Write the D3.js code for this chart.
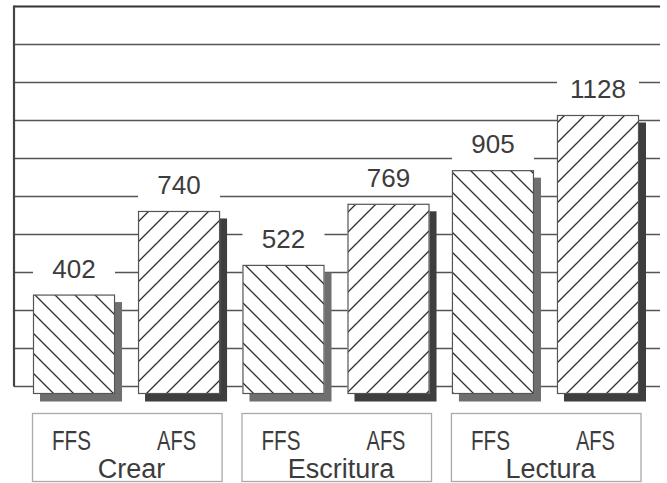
<!DOCTYPE html>
<html>
<head>
<meta charset="utf-8">
<script src="https://cdn.jsdelivr.net/npm/d3@7"></script>
<style>
  html, body { margin: 0; padding: 0; background: #fff; }
  svg { display: block; }
  text { font-family: "Liberation Sans", Arial, sans-serif; fill: #3c3c3c; }
</style>
</head>
<body>
<svg id="chart" width="667" height="483"></svg>
<script>
// ---- data ----
const categories = ["Crear", "Escritura", "Lectura"];
const seriesNames = ["FFS", "AFS"];
const ffsValues = [402, 522, 905];
const afsValues = [740, 769, 1128];
const gridSteps = [0, 1, 2, 3, 4, 5, 6, 7, 8, 9, 10];

const rows = [];
categories.forEach((c, i) => {
  rows.push({ cat: c, ser: "FFS", value: ffsValues[i] });
  rows.push({ cat: c, ser: "AFS", value: afsValues[i] });
});

const svg = d3.select("#chart");

// ---- scales ----
const x0 = d3.scaleBand().domain(categories).range([33, 639]).paddingInner(0.107).paddingOuter(0);
const x1 = d3.scaleBand().domain(seriesNames).range([0, x0.bandwidth()]).paddingInner(0.219).paddingOuter(0);
const y = d3.scaleLinear().domain([0, 1128]).range([394, 115]);
const gridY = d3.scaleLinear().domain([0, 10]).range([386.5, 6.5]);

// ---- patterns ----
const defs = svg.append("defs");
const pB = defs.append("pattern").attr("id", "hatchFFS").attr("patternUnits", "userSpaceOnUse")
  .attr("width", 20).attr("height", 20);
pB.append("path").attr("d", "M-5,-5 L25,25 M-5,15 L5,25 M15,-5 L25,5")
  .attr("stroke", "#2e2e2e").attr("stroke-width", 1.3);
const pA = defs.append("pattern").attr("id", "hatchAFS").attr("patternUnits", "userSpaceOnUse")
  .attr("width", 20).attr("height", 20);
pA.append("path").attr("d", "M-5,25 L25,-5 M-5,5 L5,-5 M15,25 L25,15")
  .attr("stroke", "#2e2e2e").attr("stroke-width", 1.3);

// ---- grid ----
svg.append("g").selectAll("line").data(gridSteps).join("line")
  .attr("x1", 14).attr("x2", 660)
  .attr("y1", d => gridY(d)).attr("y2", d => gridY(d))
  .attr("stroke", d => d === 10 ? "#333" : "#555")
  .attr("stroke-width", d => d === 10 ? 2.2 : 1.3);

svg.append("line").attr("x1", 14).attr("x2", 14)
  .attr("y1", gridY(10) - 1).attr("y2", gridY(0))
  .attr("stroke", "#444").attr("stroke-width", 2.2);

const bx = d => x0(d.cat) + x1(d.ser);

// ---- shadows ----
svg.append("g").selectAll("rect").data(rows).join("rect")
  .attr("x", d => bx(d) + 7).attr("y", d => y(d.value) + 7.5)
  .attr("width", x1.bandwidth()).attr("height", d => y(0) - y(d.value))
  .attr("fill", d => d.ser === "FFS" ? "#6f6f6f" : "#3e3e3e");

// ---- bars ----
const bars = svg.append("g");
bars.selectAll("rect.bg").data(rows).join("rect").attr("class", "bg")
  .attr("x", d => bx(d)).attr("y", d => y(d.value))
  .attr("width", x1.bandwidth()).attr("height", d => y(0) - y(d.value))
  .attr("fill", "#fff");
bars.selectAll("rect.fg").data(rows).join("rect").attr("class", "fg")
  .attr("x", d => bx(d) + 0.5).attr("y", d => y(d.value) + 0.5)
  .attr("width", x1.bandwidth() - 1).attr("height", d => y(0) - y(d.value) - 1)
  .attr("fill", d => d.ser === "FFS" ? "url(#hatchFFS)" : "url(#hatchAFS)")
  .attr("stroke", "#555").attr("stroke-width", 1.2);

// ---- value labels ----
const lab = svg.append("g");
lab.selectAll("rect").data(rows).join("rect")
  .attr("x", d => bx(d)).attr("width", x1.bandwidth())
  .attr("y", d => y(d.value) - 17 - 19 - 3)
  .attr("height", 19 + 3 + 7)
  .attr("fill", "#fff");
lab.selectAll("text").data(rows).join("text")
  .attr("x", d => bx(d) + x1.bandwidth() / 2)
  .attr("y", d => y(d.value) - 17)
  .attr("text-anchor", "middle")
  .attr("font-size", 26)
  .text(d => d.value);

// ---- category boxes ----
const cg = svg.append("g").selectAll("g").data(categories).join("g");
cg.append("rect")
  .attr("x", c => x0(c) - 0.5).attr("y", 413.5)
  .attr("width", x0.bandwidth() + 2.5).attr("height", 68)
  .attr("fill", "#fff").attr("stroke", "#aaa").attr("stroke-width", 1.3);
cg.selectAll("text.ser").data(c => seriesNames.map(s => ({ cat: c, ser: s }))).join("text")
  .attr("class", "ser")
  .attr("x", d => x0(d.cat) + x1(d.ser) + x1.bandwidth() / 2 - 2.5)
  .attr("y", 450)
  .attr("text-anchor", "middle")
  .attr("font-size", 28)
  .attr("textLength", 39).attr("lengthAdjust", "spacingAndGlyphs")
  .text(d => d.ser);
cg.append("text")
  .attr("x", c => x0(c) + x0.bandwidth() / 2 + 5)
  .attr("y", 478)
  .attr("text-anchor", "middle")
  .attr("font-size", 27)
  .text(c => c);
</script>
</body>
</html>
